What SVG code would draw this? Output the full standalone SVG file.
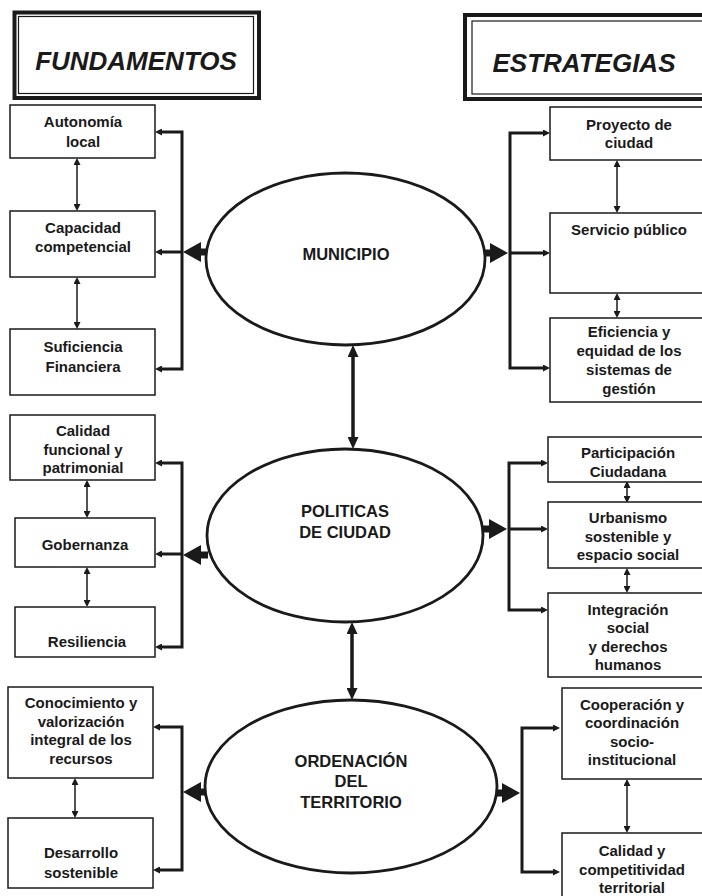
<svg xmlns="http://www.w3.org/2000/svg" width="702" height="896" viewBox="0 0 702 896">
  <style>
    .box { fill: #fff; stroke: #1a1a1a; stroke-width: 1.5; }
    .ell { fill: #fff; stroke: #1a1a1a; stroke-width: 2.8; }
    .frame-out { fill: none; stroke: #1a1a1a; stroke-width: 4; }
    .frame-in { fill: none; stroke: #1a1a1a; stroke-width: 1.2; }
    .lbl { font-family: "Liberation Sans", Arial, sans-serif; font-weight: bold; font-size: 15px; fill: #1a1a1a; text-anchor: middle; }
    .core { font-family: "Liberation Sans", Arial, sans-serif; font-weight: bold; font-size: 16.5px; fill: #1a1a1a; text-anchor: middle; }
    .head { font-family: "Liberation Sans", Arial, sans-serif; font-weight: bold; font-style: italic; font-size: 26px; fill: #1a1a1a; text-anchor: middle; }
    .thin { fill: none; stroke: #1a1a1a; stroke-width: 1.5; marker-start: url(#tip); marker-end: url(#tip); }
    .arm { fill: none; stroke: #1a1a1a; stroke-width: 3; }
    .trunk { fill: none; stroke: #1a1a1a; stroke-width: 3.5; marker-start: url(#mid); marker-end: url(#mid); }
    .stem { fill: none; stroke: #1a1a1a; stroke-width: 7; marker-end: url(#big); }
  </style>
  <defs>
    <marker id="tip" viewBox="0 0 7 7" refX="0" refY="3.5" markerWidth="7" markerHeight="7" markerUnits="userSpaceOnUse" orient="auto-start-reverse">
      <path d="M0,0 L7,3.5 L0,7 z" fill="#1a1a1a"/>
    </marker>
    <marker id="mid" viewBox="0 0 12 11" refX="0" refY="5.5" markerWidth="12" markerHeight="11" markerUnits="userSpaceOnUse" orient="auto-start-reverse">
      <path d="M0,0 L12,5.5 L0,11 z" fill="#1a1a1a"/>
    </marker>
    <marker id="big" viewBox="0 0 18 20" refX="0" refY="10" markerWidth="18" markerHeight="20" markerUnits="userSpaceOnUse" orient="auto">
      <path d="M0,0 L18,10 L0,20 z" fill="#1a1a1a"/>
    </marker>
  </defs>

  <rect width="702" height="896" fill="#fff"/>

  <!-- column headers -->
  <g id="head-fundamentos">
    <rect class="frame-out" x="14.5" y="12.5" width="244.5" height="85.5"/>
    <rect class="frame-in" x="18.5" y="16.5" width="235" height="77"/>
    <text class="head" x="136" y="70">FUNDAMENTOS</text>
  </g>
  <g id="head-estrategias">
    <rect class="frame-out" x="465" y="15" width="260" height="84"/>
    <rect class="frame-in" x="472" y="21" width="250" height="73"/>
    <text class="head" x="584" y="72">ESTRATEGIAS</text>
  </g>

  <!-- connectors -->
  <g id="connectors">
    <!-- municipio: left fan -->
    <path class="arm" d="M162,132 H182 V369 H162" marker-start="url(#tip)" marker-end="url(#tip)"/>
    <line class="arm" x1="182" y1="252" x2="162" y2="252" marker-end="url(#tip)"/>
    <line class="stem" x1="207" y1="252" x2="201" y2="252"/>
    <line class="thin" x1="77" y1="165" x2="77" y2="204"/>
    <line class="thin" x1="77" y1="284" x2="77" y2="322"/>
    <!-- municipio: right fan -->
    <path class="arm" d="M543,133 H510 V368 H543" marker-start="url(#tip)" marker-end="url(#tip)"/>
    <line class="arm" x1="510" y1="253" x2="543" y2="253" marker-end="url(#tip)"/>
    <line class="stem" x1="484" y1="253" x2="490" y2="253"/>
    <line class="thin" x1="617" y1="167" x2="617" y2="206"/>
    <line class="thin" x1="617" y1="300" x2="617" y2="311"/>

    <!-- politicas: left fan -->
    <path class="arm" d="M162,463 H182 V647 H162" marker-start="url(#tip)" marker-end="url(#tip)"/>
    <line class="arm" x1="182" y1="554" x2="162" y2="554" marker-end="url(#tip)"/>
    <line class="stem" x1="208" y1="555" x2="201" y2="555"/>
    <line class="thin" x1="87" y1="487" x2="87" y2="511"/>
    <line class="thin" x1="87" y1="574" x2="87" y2="600"/>
    <!-- politicas: right fan -->
    <path class="arm" d="M541,463 H509 V610 H541" marker-start="url(#tip)" marker-end="url(#tip)"/>
    <line class="arm" x1="509" y1="529" x2="541" y2="529" marker-end="url(#tip)"/>
    <line class="stem" x1="482" y1="529" x2="489" y2="529"/>
    <line class="thin" x1="627" y1="488" x2="627" y2="496"/>
    <line class="thin" x1="627" y1="575" x2="627" y2="586"/>

    <!-- ordenacion: left fan -->
    <path class="arm" d="M160,727 H182 V870 H160" marker-start="url(#tip)" marker-end="url(#tip)"/>
    <line class="stem" x1="206" y1="792" x2="201" y2="792"/>
    <line class="thin" x1="75" y1="785" x2="75" y2="811"/>
    <!-- ordenacion: right fan -->
    <path class="arm" d="M553,728 H522 V872 H553" marker-start="url(#tip)" marker-end="url(#tip)"/>
    <line class="stem" x1="496" y1="793" x2="502" y2="793"/>
    <line class="thin" x1="627" y1="786" x2="627" y2="826"/>

    <!-- links between the three cores -->
    <line class="trunk" x1="353" y1="357" x2="353" y2="437"/>
    <line class="trunk" x1="352" y1="634" x2="352" y2="688"/>
  </g>

  <!-- core ellipses -->
  <g id="core-municipio">
    <ellipse class="ell" cx="345.5" cy="259" rx="139.5" ry="86"/>
    <text class="core" x="346" y="260">MUNICIPIO</text>
  </g>
  <g id="core-politicas">
    <ellipse class="ell" cx="345" cy="535.5" rx="138" ry="86.5"/>
    <text class="core" x="345" y="517">POLITICAS</text>
    <text class="core" x="345" y="538">DE CIUDAD</text>
  </g>
  <g id="core-ordenacion">
    <ellipse class="ell" cx="351" cy="786.5" rx="146" ry="86.5"/>
    <text class="core" x="351" y="767">ORDENACIÓN</text>
    <text class="core" x="351" y="787">DEL</text>
    <text class="core" x="351" y="808">TERRITORIO</text>
  </g>

  <!-- fundamentos: municipio -->
  <g id="f-autonomia">
    <rect class="box" x="10" y="105" width="145" height="53"/>
    <text class="lbl" x="83" y="127">Autonomía</text>
    <text class="lbl" x="83" y="147">local</text>
  </g>
  <g id="f-capacidad">
    <rect class="box" x="10" y="211" width="145" height="66"/>
    <text class="lbl" x="83" y="233">Capacidad</text>
    <text class="lbl" x="83" y="252">competencial</text>
  </g>
  <g id="f-suficiencia">
    <rect class="box" x="10" y="329" width="145" height="66"/>
    <text class="lbl" x="83" y="352">Suficiencia</text>
    <text class="lbl" x="83" y="372">Financiera</text>
  </g>

  <!-- fundamentos: politicas -->
  <g id="f-calidad-funcional">
    <rect class="box" x="10" y="415" width="145" height="65"/>
    <text class="lbl" x="83" y="436">Calidad</text>
    <text class="lbl" x="83" y="455">funcional y</text>
    <text class="lbl" x="83" y="473">patrimonial</text>
  </g>
  <g id="f-gobernanza">
    <rect class="box" x="15" y="518" width="140" height="49"/>
    <text class="lbl" x="85" y="550">Gobernanza</text>
  </g>
  <g id="f-resiliencia">
    <rect class="box" x="15" y="607" width="140" height="50"/>
    <text class="lbl" x="87" y="647">Resiliencia</text>
  </g>

  <!-- fundamentos: ordenacion -->
  <g id="f-conocimiento">
    <rect class="box" x="8" y="687" width="145" height="91"/>
    <text class="lbl" x="81" y="708">Conocimiento y</text>
    <text class="lbl" x="81" y="727">valorización</text>
    <text class="lbl" x="81" y="745">integral de los</text>
    <text class="lbl" x="81" y="764">recursos</text>
  </g>
  <g id="f-desarrollo">
    <rect class="box" x="8" y="818" width="145" height="70"/>
    <text class="lbl" x="81" y="858">Desarrollo</text>
    <text class="lbl" x="81" y="878">sostenible</text>
  </g>

  <!-- estrategias: municipio -->
  <g id="e-proyecto">
    <rect class="box" x="550" y="107" width="160" height="53"/>
    <text class="lbl" x="629" y="130">Proyecto de</text>
    <text class="lbl" x="629" y="148">ciudad</text>
  </g>
  <g id="e-servicio">
    <rect class="box" x="550" y="213" width="160" height="80"/>
    <text class="lbl" x="629" y="235">Servicio público</text>
  </g>
  <g id="e-eficiencia">
    <rect class="box" x="550" y="318" width="160" height="84"/>
    <text class="lbl" x="629" y="337">Eficiencia y</text>
    <text class="lbl" x="629" y="356">equidad de los</text>
    <text class="lbl" x="629" y="375">sistemas de</text>
    <text class="lbl" x="629" y="394">gestión</text>
  </g>

  <!-- estrategias: politicas -->
  <g id="e-participacion">
    <rect class="box" x="548" y="437" width="162" height="45"/>
    <text class="lbl" x="628" y="458">Participación</text>
    <text class="lbl" x="628" y="477">Ciudadana</text>
  </g>
  <g id="e-urbanismo">
    <rect class="box" x="548" y="502" width="162" height="66"/>
    <text class="lbl" x="628" y="523">Urbanismo</text>
    <text class="lbl" x="628" y="542">sostenible y</text>
    <text class="lbl" x="628" y="560">espacio social</text>
  </g>
  <g id="e-integracion">
    <rect class="box" x="548" y="593" width="162" height="84"/>
    <text class="lbl" x="628" y="615">Integración</text>
    <text class="lbl" x="628" y="633">social</text>
    <text class="lbl" x="628" y="652">y derechos</text>
    <text class="lbl" x="628" y="670">humanos</text>
  </g>

  <!-- estrategias: ordenacion -->
  <g id="e-cooperacion">
    <rect class="box" x="562" y="688" width="150" height="91"/>
    <text class="lbl" x="632" y="710">Cooperación y</text>
    <text class="lbl" x="632" y="728">coordinación</text>
    <text class="lbl" x="632" y="747">socio-</text>
    <text class="lbl" x="632" y="765">institucional</text>
  </g>
  <g id="e-calidad-territorial">
    <rect class="box" x="562" y="833" width="150" height="80"/>
    <text class="lbl" x="632" y="856">Calidad y</text>
    <text class="lbl" x="632" y="875">competitividad</text>
    <text class="lbl" x="632" y="893">territorial</text>
  </g>
</svg>
